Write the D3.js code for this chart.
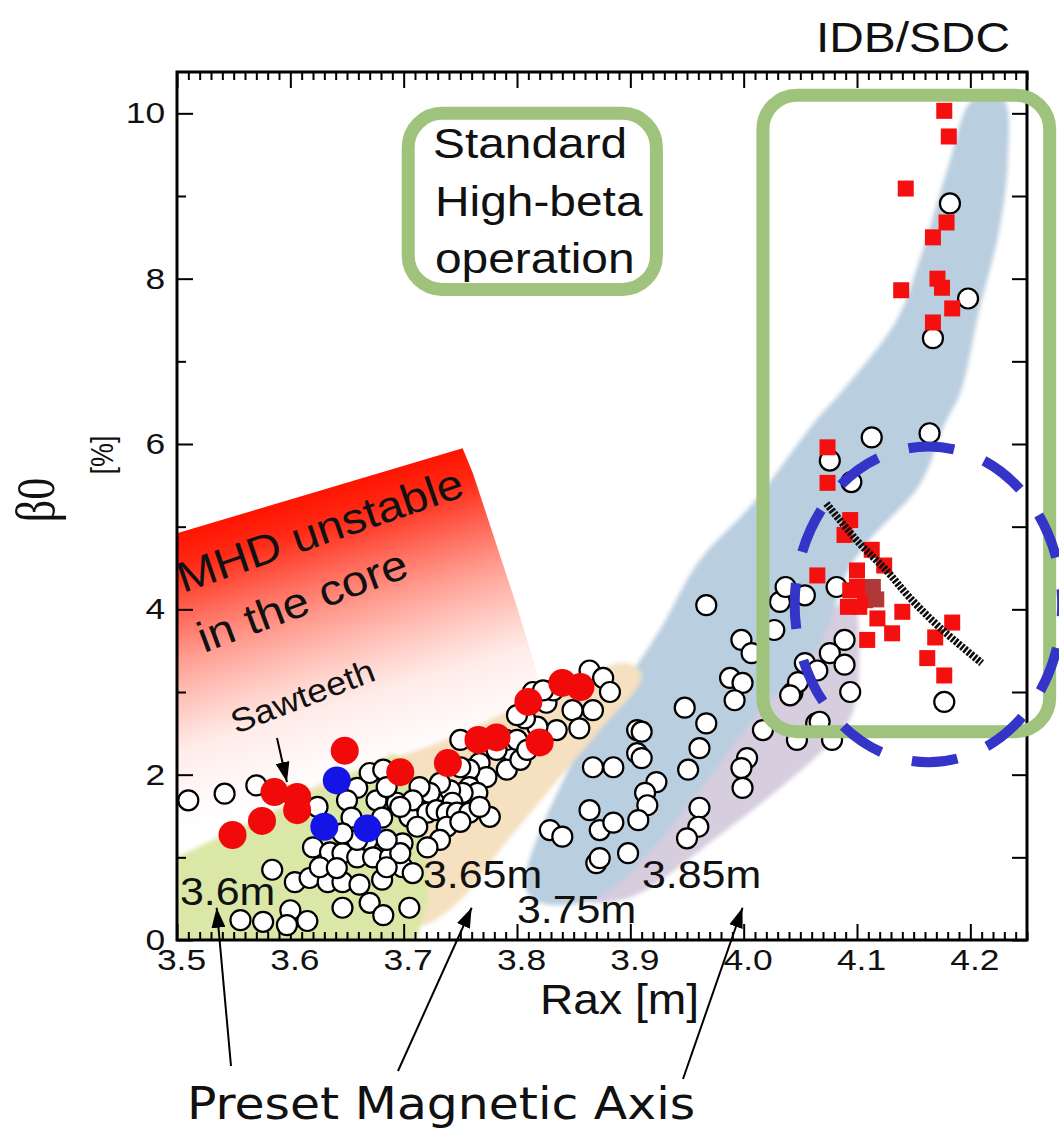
<!DOCTYPE html>
<html>
<head>
<meta charset="utf-8">
<script src="https://cdn.jsdelivr.net/npm/d3@7"></script>
<style>
  body { margin: 0; background: #fff; }
  svg { display: block; }
  text { font-family: "Liberation Sans", Arial, Helvetica, sans-serif; fill: #111; }
</style>
</head>
<body>
<script>
// ---- axis setup -------------------------------------------------------
const xDomain = [3.5, 4.25];
const yDomain = [0, 10.5];
const xMajorTicks = [3.5, 3.6, 3.7, 3.8, 3.9, 4.0, 4.1, 4.2];
const yMajorTicks = [0, 2, 4, 6, 8, 10];
const yMinorTicks = [1, 3, 5, 7, 9];

// ---- shots: [Rax (m), beta0 (%)] --------------------------------------
const openCircles = [
  [3.510,1.69],[3.542,1.77],[3.570,1.87],[3.624,1.61],[3.659,1.84],[3.670,2.02],[3.682,2.06],
  [3.650,1.69],[3.654,1.48],[3.676,1.69],[3.694,1.66],[3.681,1.48],[3.668,1.21],[3.705,1.49],
  [3.620,1.12],[3.635,1.06],[3.646,1.05],[3.659,1.00],[3.673,1.00],[3.688,1.00],[3.699,0.88],
  [3.584,0.85],[3.604,0.70],[3.617,0.75],[3.633,0.70],[3.646,0.70],[3.661,0.67],[3.681,0.73],
  [3.626,0.88],[3.641,0.87],[3.670,0.45],[3.646,0.39],[3.682,0.30],[3.705,0.39],[3.556,0.24],
  [3.576,0.22],[3.600,0.36],[3.597,0.18],[3.615,0.23],[3.659,1.21],[3.646,1.29],[3.699,1.17],
  [3.864,3.26],[3.876,3.17],[3.882,3.00],[3.867,2.78],[3.849,2.78],[3.855,2.56],[3.835,2.54],
  [3.826,2.87],[3.832,3.02],[3.818,2.58],[3.807,2.68],[3.800,2.72],[3.814,3.00],[3.823,3.02],
  [3.796,2.27],[3.791,2.42],[3.800,2.42],[3.782,2.30],[3.791,2.06],[3.803,2.18],[3.809,2.30],
  [3.767,2.14],[3.773,1.97],[3.758,2.06],[3.750,2.42],[3.750,2.09],[3.758,1.85],[3.765,1.78],
  [3.752,1.78],[3.741,1.81],[3.743,1.66],[3.732,1.90],[3.723,1.78],[3.714,1.85],[3.708,1.69],
  [3.721,1.54],[3.729,1.57],[3.738,1.54],[3.747,1.54],[3.758,1.54],[3.776,1.49],[3.767,1.61],
  [3.685,1.85],[3.697,1.61],[3.712,1.37],[3.738,1.37],[3.750,1.43],[3.732,1.21],[3.721,1.12],
  [3.697,1.05],[3.685,1.21],[3.685,0.88],[3.708,0.81],
  [3.829,1.33],[3.840,1.25],[3.867,2.09],[3.885,2.09],[3.864,1.57],[3.873,1.33],[3.885,1.42],
  [3.870,0.93],[3.898,1.05],[3.906,2.26],[3.906,2.54],
  [3.967,4.05],[3.998,3.63],[4.007,3.47],[3.988,3.17],[3.999,3.11],[3.992,2.90],[3.948,2.81],
  [3.967,2.62],[3.910,2.52],[3.910,2.20],[3.961,2.32],[3.951,2.06],[4.003,2.20],[3.998,2.08],
  [3.999,1.84],[3.923,1.91],[3.913,1.78],[3.915,1.63],[3.907,1.45],[3.961,1.60],[3.960,1.37],
  [3.950,1.23],[3.873,0.99],
  [4.032,4.09],[4.054,4.17],[4.037,4.27],[4.027,3.75],[4.054,3.35],[4.043,2.99],[4.017,2.54],
  [4.047,2.42],[4.064,2.62],
  [4.113,6.08],[4.164,6.13],[4.076,5.80],[4.095,5.54],[4.082,4.27],[4.089,3.63],[4.076,3.47],
  [4.065,3.26],[4.089,3.33],[4.048,3.12],[4.041,2.96],[4.094,3.00],[4.177,2.88],[4.067,2.64],
  [4.078,2.42],
  [4.182,8.91],[4.198,7.76],[4.167,7.28]
];
const sawtoothShots = [
  [3.549,1.27],[3.575,1.44],[3.586,1.79],[3.606,1.73],[3.606,1.57],[3.648,2.29],[3.697,2.03],
  [3.739,2.14],[3.766,2.42],[3.782,2.45],[3.810,2.88],[3.820,2.39],[3.840,3.11],[3.856,3.06]
];
const blueShots = [[3.641,1.93],[3.630,1.37],[3.668,1.35]];
const highBetaShots = [
  [4.177,10.03],[4.181,9.72],[4.143,9.09],[4.179,8.68],[4.167,8.50],[4.171,8.00],[4.175,7.89],
  [4.139,7.86],[4.184,7.64],[4.167,7.47],[4.074,5.96],[4.074,5.53],[4.094,5.08],[4.089,4.90],
  [4.113,4.72],[4.124,4.53],[4.065,4.41],[4.100,4.47],[4.100,4.27],[4.092,4.03],[4.102,4.03],
  [4.118,3.89],[4.140,3.97],[4.131,3.71],[4.109,3.63],[4.184,3.84],[4.169,3.66],[4.162,3.41],
  [4.177,3.20],[4.094,4.23],[4.107,4.11]
];
const overlapShots = [[4.114,4.27],[4.117,4.12]];
const idbTrend = [[4.073,5.28],[4.102,4.80],[4.126,4.47],[4.146,4.15],[4.173,3.78],[4.210,3.35]];

// ---- operating regions for each preset axis ----------------------------
const region360 = [[3.5,1.0],[3.5,-0.3],[3.705,-0.3],[3.722,0.5],[3.718,1.6],[3.705,2.2],[3.69,2.25]];
const region365 = [[3.608,1.69],[3.741,2.44],[3.897,3.35],[3.910,3.19],[3.873,2.54],[3.838,1.97],
                   [3.785,1.09],[3.750,0.48],[3.714,0.18],[3.697,0.48],[3.679,1.09],[3.635,1.33]];
const region375 = [[3.807,0.67],[3.844,2.02],[3.885,2.90],[3.926,3.75],[3.961,4.59],[4.008,5.28],
                   [4.064,6.29],[4.085,6.61],[4.135,7.50],[4.155,8.22],[4.182,9.43],[4.199,10.12],
                   [4.215,10.24],[4.230,10.16],[4.233,9.43],[4.226,8.62],[4.208,7.62],[4.191,6.61],
                   [4.177,6.23],[4.155,5.50],[4.111,4.84],[4.091,4.44],[4.067,3.57],[4.014,2.76],
                   [3.961,1.81],[3.911,0.97],[3.873,0.52],[3.838,0.42],[3.816,0.48]];
const region385 = [[3.860,0.48],[3.899,0.51],[3.979,1.27],[4.061,2.18],[4.094,2.68],[4.102,3.39],
                   [4.095,4.11],[4.067,3.87],[4.014,3.02],[3.952,2.18],[3.882,1.09],[3.855,0.67]];
const regionMHD = [[3.5,4.92],[3.752,5.95],[3.761,5.65],[3.800,4.03],[3.845,2.0],[3.5,1.2]];

// ---- layout ------------------------------------------------------------
const W = 1059, H = 1130;
const plot = { left: 177, right: 1027, top: 72, bottom: 940 };
const SX = 1.1; // horizontal text stretch used throughout the figure

const x = d3.scaleLinear().domain(xDomain).range([plot.left, plot.right]);
const y = d3.scaleLinear().domain(yDomain).range([plot.bottom, plot.top]);

const svg = d3.select("body").append("svg").attr("width", W).attr("height", H);
const defs = svg.append("defs");

defs.append("clipPath").attr("id", "plotClip")
  .append("rect").attr("x", plot.left).attr("y", plot.top)
  .attr("width", plot.right - plot.left).attr("height", plot.bottom - plot.top);

defs.append("filter").attr("id", "soft").attr("x", "-5%").attr("y", "-5%")
  .attr("width", "110%").attr("height", "110%")
  .append("feGaussianBlur").attr("stdDeviation", 2);

// red fade for the MHD-unstable zone, running perpendicular to its upper edge
const g0 = [x(3.5), y(4.92)], g1 = [x(3.752), y(5.95)];
const mid = [(g0[0] + g1[0]) / 2, (g0[1] + g1[1]) / 2];
const ex = g1[0] - g0[0], ey = g1[1] - g0[1], el = Math.hypot(ex, ey);
const nx = -ey / el, ny = ex / el; // normal pointing down-right
const grad = defs.append("linearGradient").attr("id", "mhdFade")
  .attr("gradientUnits", "userSpaceOnUse")
  .attr("x1", mid[0]).attr("y1", mid[1])
  .attr("x2", mid[0] + nx * 290).attr("y2", mid[1] + ny * 290);
[[0, "#ff1400", 1], [0.12, "#ff2410", 0.97], [0.42, "#ff3a22", 0.5], [0.72, "#ff5a40", 0.12], [1, "#ff8070", 0]]
  .forEach(([o, c, a]) => grad.append("stop").attr("offset", o).attr("stop-color", c).attr("stop-opacity", a));

const arrow = defs.append("marker").attr("id", "arrowHead")
  .attr("markerUnits", "userSpaceOnUse").attr("markerWidth", 22).attr("markerHeight", 14)
  .attr("refX", 20).attr("refY", 7).attr("orient", "auto");
arrow.append("path").attr("d", "M0,0 L20,7 L0,14 Z").attr("fill", "#000");

// ---- regions -------------------------------------------------------------
const smooth = d3.line().x(d => x(d[0])).y(d => y(d[1])).curve(d3.curveCatmullRomClosed.alpha(0.5));
const straight = d3.line().x(d => x(d[0])).y(d => y(d[1])).curve(d3.curveLinearClosed);

const regions = svg.append("g").attr("clip-path", "url(#plotClip)");
const bands = regions.append("g").attr("filter", "url(#soft)");
bands.append("path").attr("d", smooth(region385)).attr("fill", "#d6cddf");
bands.append("path").attr("d", smooth(region375)).attr("fill", "#b9cedf");
bands.append("path").attr("d", smooth(region365)).attr("fill", "#f5e0c0");
bands.append("path").attr("d", straight(region360)).attr("fill", "#dbe7a6");
regions.append("path").attr("d", straight(regionMHD)).attr("fill", "url(#mhdFade)");

// ---- axes ----------------------------------------------------------------
const xMinorTicks = d3.range(0, 76).filter(i => i % 10 !== 0).map(i => +(3.5 + i * 0.01).toFixed(2));
const axes = svg.append("g").attr("class", "axes");
const noDomain = g => g.select(".domain").remove();
const tickStyle = g => g.selectAll("line").attr("stroke", "#000").attr("stroke-width", 2);

axes.append("g").attr("transform", `translate(0,${plot.bottom})`)
  .call(d3.axisBottom(x).tickValues(xMinorTicks).tickSize(-8).tickFormat(""))
  .call(noDomain).call(tickStyle);
axes.append("g").attr("transform", `translate(0,${plot.top})`)
  .call(d3.axisTop(x).tickValues(xMinorTicks).tickSize(-8).tickFormat(""))
  .call(noDomain).call(tickStyle);
axes.append("g").attr("transform", `translate(0,${plot.top})`)
  .call(d3.axisTop(x).tickValues(xMajorTicks).tickSize(-16).tickFormat(""))
  .call(noDomain).call(tickStyle);
const xAxis = axes.append("g").attr("transform", `translate(0,${plot.bottom})`)
  .call(d3.axisBottom(x).tickValues(xMajorTicks).tickSize(-16).tickPadding(9).tickFormat(d3.format(".1f")))
  .call(noDomain).call(tickStyle);
xAxis.selectAll("text")
  .attr("font-size", 30).attr("fill", "#111")
  .attr("font-family", "Liberation Sans, Arial, sans-serif")
  .attr("transform", "translate(4,0) scale(1.18,1)");

axes.append("g").attr("transform", `translate(${plot.left},0)`)
  .call(d3.axisLeft(y).tickValues(yMinorTicks).tickSize(-9).tickFormat(""))
  .call(noDomain).call(tickStyle);
const yAxis = axes.append("g").attr("transform", `translate(${plot.left},0)`)
  .call(d3.axisLeft(y).tickValues(yMajorTicks).tickSize(-16).tickPadding(10).tickFormat(d3.format("d")))
  .call(noDomain).call(tickStyle);
yAxis.selectAll("text")
  .attr("font-size", 30).attr("fill", "#111")
  .attr("font-family", "Liberation Sans, Arial, sans-serif")
  .attr("transform", "scale(1.18,1)");
axes.append("g").attr("transform", `translate(${plot.right},0)`)
  .call(d3.axisRight(y).tickValues(d3.range(0, 11)).tickSize(-15).tickFormat(""))
  .call(noDomain).call(tickStyle);

axes.append("rect")
  .attr("x", plot.left).attr("y", plot.top)
  .attr("width", plot.right - plot.left).attr("height", plot.bottom - plot.top)
  .attr("fill", "none").attr("stroke", "#000").attr("stroke-width", 3);

// ---- shots ---------------------------------------------------------------
const marks = svg.append("g").attr("clip-path", "url(#plotClip)");
marks.selectAll("circle.open").data(openCircles).join("circle").attr("class", "open")
  .attr("cx", d => x(d[0])).attr("cy", d => y(d[1])).attr("r", 10)
  .attr("fill", "#fff").attr("stroke", "#000").attr("stroke-width", 2.2);
marks.selectAll("circle.saw").data(sawtoothShots).join("circle").attr("class", "saw")
  .attr("cx", d => x(d[0])).attr("cy", d => y(d[1])).attr("r", 14).attr("fill", "#f20a0a");
marks.selectAll("circle.blue").data(blueShots).join("circle").attr("class", "blue")
  .attr("cx", d => x(d[0])).attr("cy", d => y(d[1])).attr("r", 14).attr("fill", "#1414e6");
const sq = 16;
marks.selectAll("rect.hb").data(highBetaShots).join("rect").attr("class", "hb")
  .attr("x", d => x(d[0]) - sq / 2).attr("y", d => y(d[1]) - sq / 2)
  .attr("width", sq).attr("height", sq).attr("fill", "#f51010");
marks.selectAll("rect.ov").data(overlapShots).join("rect").attr("class", "ov")
  .attr("x", d => x(d[0]) - sq / 2).attr("y", d => y(d[1]) - sq / 2)
  .attr("width", sq).attr("height", sq).attr("fill", "#b13838");

// IDB/SDC trend (hatched line)
const trendLine = d3.line().x(d => x(d[0])).y(d => y(d[1])).curve(d3.curveCatmullRom.alpha(0.5));
svg.append("path").attr("d", trendLine(idbTrend))
  .attr("fill", "none").attr("stroke", "#0d0d0d").attr("stroke-width", 7.5)
  .attr("stroke-dasharray", "2.6 1.5");

// ---- highlight boxes -----------------------------------------------------
const boxGreen = "#9fc27d";
function roundBox(x0, y0, x1, y1, r) {
  svg.append("rect")
    .attr("x", x(x0)).attr("y", y(y0))
    .attr("width", x(x1) - x(x0)).attr("height", y(y1) - y(y0))
    .attr("rx", r).attr("ry", r)
    .attr("fill", "none").attr("stroke", boxGreen).attr("stroke-width", 13);
}
roundBox(3.704, 10.0, 3.923, 7.87, 34);
roundBox(4.017, 10.22, 4.270, 2.52, 34);

// dashed ellipse around the high-beta IDB/SDC cluster
const ell = { cx: 4.163, cy: 4.06, rx: 0.118, ry: 1.91 };
svg.append("ellipse")
  .attr("cx", x(ell.cx)).attr("cy", y(ell.cy))
  .attr("rx", x(ell.cx + ell.rx) - x(ell.cx)).attr("ry", y(ell.cy) - y(ell.cy + ell.ry))
  .attr("fill", "none").attr("stroke", "#3434c8").attr("stroke-width", 10)
  .attr("stroke-dasharray", "46 32").attr("stroke-dashoffset", 34);

// ---- text ------------------------------------------------------------------
const txt = svg.append("g");
function label(str, px, py, size, opts = {}) {
  const t = txt.append("text")
    .attr("transform", `translate(${px},${py}) rotate(${opts.rotate || 0}) scale(${opts.sx || SX},${opts.sy || 1})`)
    .attr("font-size", size)
    .attr("text-anchor", opts.anchor || "start")
    .text(str);
  if (opts.family) t.style("font-family", opts.family);
  return t;
}

label("IDB/SDC", 1010, 52, 42, { anchor: "end", sx: 1.14 });

label("Standard", 433, 158, 42, { sx: 1.14 });
label("High-beta", 435, 216, 42, { sx: 1.14 });
label("operation", 435, 273, 42, { sx: 1.14 });

label("MHD unstable", 183, 593, 43, { rotate: -19 });
label("in the core", 204, 653, 43, { rotate: -20.5 });

label("Sawteeth", 236, 734, 33, { rotate: -21 });
txt.append("line").attr("x1", 277).attr("y1", 738).attr("x2", x(3.597)).attr("y2", y(1.91))
  .attr("stroke", "#000").attr("stroke-width", 2).attr("marker-end", "url(#arrowHead)");

label("3.6m", 180, 905, 39);
label("3.65m", 423, 888, 39);
label("3.75m", 517, 923, 39);
label("3.85m", 642, 888, 39);

label("Rax [m]", 540, 1014, 42);

label("\u03b20", 54, 500, 44, { rotate: -90, anchor: "middle", sx: 1, sy: 1.25, family: "Liberation Serif, 'Times New Roman', serif" });
label("[%]", 113, 455, 27, { rotate: -90, anchor: "middle", sx: 1, sy: 1.15 });

// preset magnetic axis callouts
label("Preset Magnetic Axis", 187, 1119, 44, { sx: 1.11, family: "'DejaVu Sans', Verdana, sans-serif" });
const presetTips = [[3.535, 0.39], [3.760, 0.39], [3.999, 0.39]];
const presetTails = [[231, 1066], [398, 1071], [683, 1079]];
presetTips.forEach((tip, i) => {
  txt.append("line")
    .attr("x1", presetTails[i][0]).attr("y1", presetTails[i][1])
    .attr("x2", x(tip[0])).attr("y2", y(tip[1]))
    .attr("stroke", "#000").attr("stroke-width", 2).attr("marker-end", "url(#arrowHead)");
});
</script>
</body>
</html>
